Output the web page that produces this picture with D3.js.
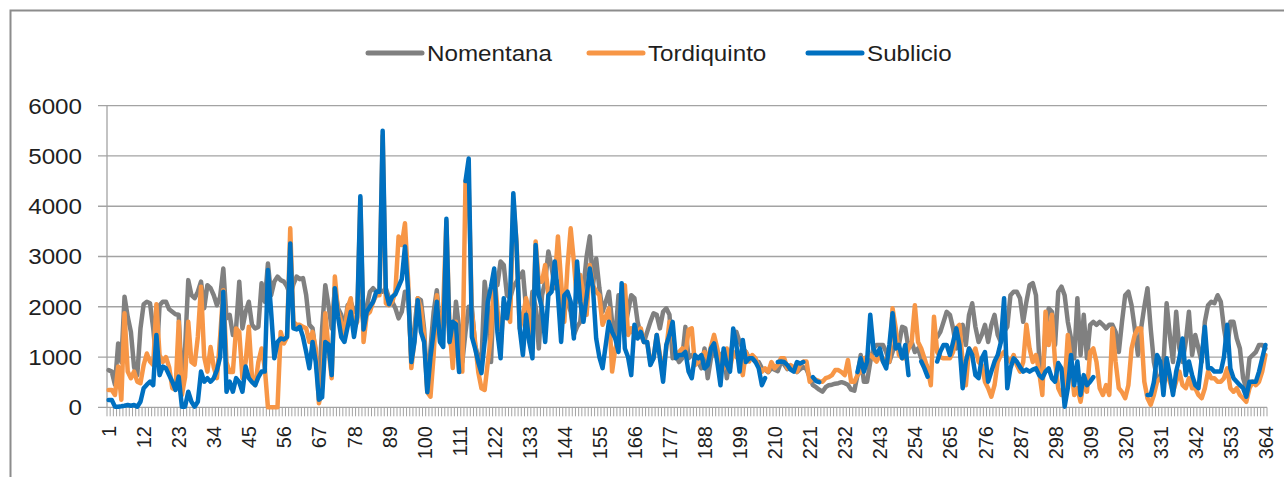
<!DOCTYPE html>
<html>
<head>
<meta charset="utf-8">
<script src="https://cdn.jsdelivr.net/npm/d3@7"></script>
<style>
  body { margin: 0; background: #fff; }
  text { font-family: "Liberation Sans", Arial, sans-serif; fill: #1f1f1f; }
</style>
</head>
<body>
<script>
// categories: day of year 1..364
const days = d3.range(1, 365);
const xTickLabels = [1, 12, 23, 34, 45, 56, 67, 78, 89, 100, 111, 122, 133, 144, 155, 166, 177, 188,
  199, 210, 221, 232, 243, 254, 265, 276, 287, 298, 309, 320, 331, 342, 353, 364];
const yTicks = [0, 1000, 2000, 3000, 4000, 5000, 6000];
const seriesNames = ["Nomentana", "Tordiquinto", "Sublicio"];
const seriesColors = ["#808080", "#f79646", "#0070c0"];

const nomentana = [
  740, 710, 450, 1270, 900, 2200, 1800, 1500, 800, 640,
  1570, 2050, 2100, 2070, 1570, 900, 2030, 2100, 2100, 1950,
  1900, 1850, 1840, 440, 1170, 2530, 2230, 2170, 2300, 2500,
  1970, 2430, 2370, 2230, 2030, 2200, 2760, 1770, 1840, 1440,
  1570, 2500, 1570, 1900, 2100, 1640, 1570, 1600, 2470, 2100,
  2860, 2230, 2500, 2600, 2530, 2500, 2400, 2230, 2450, 2600,
  2550, 2570, 2230, 1640, 1570, 1040, 440, 1570, 2430, 2030,
  1570, 2370, 1970, 1840, 1570, 2030, 2100, 1900, 2000, 2100,
  1640, 2000, 2300, 2370, 2300, 2300, 2300, 2370, 2170, 2100,
  1970, 1770, 1900, 2300, 2230, 975, 1600, 2170, 2130, 1570,
  380, 1170, 1900, 2330, 1570, 1900, 2230, 1300, 1170, 2100,
  1570, 900, 1500, 2000, 1970, 1240, 1000, 900, 2500, 1970,
  900, 2500, 2430, 2900, 2830, 2230, 2170, 2400, 2500, 2600,
  2700, 1970, 1570, 2300, 2000, 1170, 2230, 2500, 3100, 2800,
  2370, 2500, 1970, 2170, 2100, 1900, 1440, 1600, 1700, 2370,
  3000, 3400, 2430, 2960, 2370, 1900, 2100, 2300, 1700, 1370,
  2230, 1970, 1570, 1900, 2230, 2170, 1700, 1440, 1300, 1500,
  1700, 1870, 1840, 1570, 1900, 1970, 1840, 975, 1040, 900,
  975, 1600, 975, 1040, 975, 900, 775, 1170, 580, 975,
  1170, 975, 1040, 1100, 580, 1040, 1300, 1500, 1300, 1170,
  1100, 975, 975, 900, 900, 775, 750, 700, 780, 750,
  720, 900, 850, 760, 800, 760, 700, 760, 800, 760,
  600, 440, 400, 350, 310, 400, 440, 450, 470, 480,
  500, 480, 450, 350, 330, 640, 1040, 510, 510, 900,
  1170, 1240, 1240, 1240, 1100, 900, 1100, 1300, 1240, 1600,
  1570, 1170, 1300, 1100, 1170, 975, 900, 800, null, null,
  1400, 1500, 1700, 1900, 1840, 1570, 1170, 1570, 1640, 1240,
  1840, 2070, 1600, 1300, 1440, 1640, 1300, 1640, 1840, 1440,
  1300, 1500, 1600, 2230, 2300, 2300, 2170, 1700, 2100, 2430,
  2470, 2230, 1000, 440, 1570, 1970, 1900, 1240, 2300, 2400,
  2230, 1700, 1370, 975, 2170, 1040, 1840, 975, 1640, 1700,
  1640, 1700, 1640, 1570, 1640, 1640, 1500, 1100, 1700, 2230,
  2300, 2030, 1570, 1040, 1570, 2000, 2370, 1570, 900, 580,
  580, 840, 2070, 1440, 900, 1900, 1170, 900, 1300, 1900,
  1040, 1440, 1170, 900, 1700, 2030, 2100, 2070, 2230, 2100,
  1570, 1170, 1700, 1700, 1370, 1170, 580, 380, 975, 1040,
  1100, 1240, 1240, 1170
];

const tordiquinto = [
  345, 345, 245, 810, 150, 1870, 710, 580, 710, 510,
  480, 840, 1070, 910, 840, 2050, 1040, 900, 1000, 800,
  380, 350, 1700, 245, 600, 1700, 900, 850, 1400, 2400,
  1000, 710, 1200, 800, 580, 1400, 2330, 900, 700, 700,
  1570, 1500, 580, 900, 1600, 600, 440, 900, 1170, 800,
  0, 0, 0, 0, 1500, 1270, 1400, 3560, 1700, 1640,
  1640, 1600, 1570, 1300, 1500, 1170, 80, 380, 1870, 1170,
  580, 2600, 1900, 1700, 1440, 1970, 2170, 1570, 1700, 4150,
  1300, 1840, 1900, 2100, 2230, 2230, 5400, 2070, 2030, 2100,
  2300, 3400, 3230, 3660, 2500, 780, 1370, 2170, 1970, 1440,
  300, 210, 1040, 2230, 1300, 2000, 3700, 1570, 780, 1700,
  710, 710, 4500, 4400, 1900, 1300, 700, 380, 345, 900,
  1440, 2700, 1970, 1170, 2100, 1900, 1700, 4100, 3300, 1570,
  1800, 2170, 1900, 1170, 3300, 2500, 2500, 2830, 2230, 2370,
  2500, 3400, 2500, 1700, 2800, 3560, 2900, 2100, 2630, 2230,
  1840, 2830, 2430, 2300, 2230, 1640, 1800, 1970, 710, 1170,
  1370, 1900, 2430, 1440, 1570, 1440, 1500, 1570, 1300, 1300,
  900, 975, 1440, 1040, 710, 1170, 1700, 1500, 975, 1100,
  1170, 1040, 1540, 1570, 840, 900, 1000, 1100, 975, 1200,
  1440, 1170, 840, 775, 1170, 775, 1100, 1000, 975, 640,
  1100, 910, 1040, 975, 800, 710, 775, 710, 900, 775,
  850, 975, 975, 775, 840, 800, 710, 850, 910, 910,
  510, 580, 545, 520, 510, 580, 600, 640, 740, 740,
  700, 640, 940, 510, 510, 640, 710, 975, 1000, 1040,
  975, 910, 1040, 910, 975, 910, 1970, 1570, 1040, 975,
  975, 1170, 1300, 2030, 1300, 1170, 975, 775, 440, 1800,
  1100, 1000, 975, 975, 975, 1100, 1570, 1640, 900, 440,
  1170, 1040, 1170, 900, 840, 510, 380, 210, 440, 900,
  1040, 1100, 975, 900, 1040, 840, 710, 900, 1640, 1170,
  900, 1040, 710, 245, 1900, 1240, 1840, 900, 380, 245,
  440, 1440, 900, 245, 380, 110, 510, 310, 1100, 1170,
  900, 380, 245, 440, 245, 1570, 900, 380, 300, 180,
  440, 1170, 1440, 1570, 1570, 510, 180, 50, 245, 510,
  580, 440, 710, 510, 310, 510, 710, 440, 380, 580,
  380, 380, 245, 180, 380, 710, 580, 580, 510, 510,
  580, 775, 380, 310, 380, 245, 180, 110, 380, 510,
  440, 510, 710, 1040
];

const sublicio = [
  146, 146, 13, 13, 20, 30, 46, 30, 46, 13,
  110, 380, 450, 510, 440, 1440, 640, 810, 775, 640,
  510, 345, 610, 13, 13, 310, 110, 13, 110, 710,
  510, 580, 510, 580, 740, 1000, 2300, 310, 510, 310,
  580, 500, 310, 810, 580, 500, 440, 600, 710, 710,
  2730, 1900, 975, 1300, 1370, 1350, 1400, 3260, 1570, 1550,
  1600, 1400, 1100, 775, 1300, 900, 150, 200, 1300, 1250,
  640, 2370, 1800, 1400, 1300, 1600, 1900, 1400, 1800, 4200,
  1550, 1900, 2000, 2100, 2300, 2300, 5500, 2300, 2050, 2200,
  2250, 2400, 2550, 3200, 2300, 900, 1300, 2130, 1500, 1300,
  300, 1000, 1500, 2100, 1300, 1200, 3750, 1300, 1700, 1650,
  700, null, 4500, 4950, 1400, 1170, 900, 680, 1300, 2100,
  2400, 2760, 1500, 975, 2170, 1770, 2230, 4260, 3230, 1570,
  1040, 1840, 1300, 975, 3230, 2230, 1970, 1300, 2230, 2300,
  2900, 2230, 1300, 2230, 2300, 2100, 1370, 2900, 2100, 1700,
  2200, 2760, 2370, 1370, 1000, 780, 1240, 1700, 1500, 1370,
  1100, 2470, 1170, 1000, 640, 1640, 1370, 1500, 1300, 1300,
  840, 975, 1440, 975, 510, 1240, 1440, 1700, 975, 1040,
  1040, 1100, 710, 580, 1040, 975, 1040, 775, 840, 1170,
  1270, 900, 440, 1170, 840, 710, 1570, 1240, 710, 1340,
  900, 975, 975, 900, 775, 440, 580, null, null, null,
  900, 910, 900, 840, 750, 710, 900, 870, 900, null,
  null, 600, 520, 500, null, null, null, null, null, null,
  null, null, null, null, null, 700, 975, 710, 910, 1840,
  1170, 1040, 1170, 910, 775, 1240, 1870, 1170, 1240, 975,
  1240, 640, null, null, null, 910, 775, 610, null, null,
  910, 1110, 1240, 1240, 1040, 1300, 1570, 1240, 380, 910,
  1170, 1040, 640, 580, 975, 1100, 510, 710, 910, 1040,
  1300, 2170, 380, 775, 975, 910, 800, 710, 750, 710,
  750, 775, 640, 580, 710, 775, 580, 510, 880, 775,
  13, 380, 1040, 440, 910, 245, 640, 440, 510, 600,
  null, null, null, null, null, null, null, null, null, null,
  null, null, null, null, null, null, 245, 245, 500, 1040,
  910, 245, 975, 640, 245, 710, 975, 1370, 640, 910,
  640, 440, 380, 975, 1600, 775, 775, 710, 710, 710,
  1000, 1640, 775, 580, 510, 440, 380, 210, 510, 510,
  510, 710, 975, 1240
];

const series = [nomentana, tordiquinto, sublicio];

const width = 1284, height = 477;
const margin = {top: 105.7, right: 17, bottom: 69.7, left: 107};

const svg = d3.select("body").append("svg")
    .attr("width", width)
    .attr("height", height);

// chart area border (only top and left are inside the picture)
svg.append("path")
    .attr("d", `M10.5,${height}V10.5H${width}`)
    .attr("fill", "none")
    .attr("stroke", "#8c8c8c")
    .attr("stroke-width", 2);

const x = d3.scaleBand()
    .domain(days)
    .range([margin.left, width - margin.right]);

const y = d3.scaleLinear()
    .domain([0, 6000])
    .range([height - margin.bottom, margin.top]);

const cx = d => x(d) + x.bandwidth() / 2;

// gridlines + left tick stubs
svg.append("g")
  .selectAll("line")
  .data(yTicks)
  .join("line")
    .attr("x1", margin.left - 9)
    .attr("x2", width - margin.right)
    .attr("y1", d => y(d))
    .attr("y2", d => y(d))
    .attr("stroke", "#a3a3a3")
    .attr("stroke-width", 1.3);

// y axis line
svg.append("line")
    .attr("x1", margin.left).attr("x2", margin.left)
    .attr("y1", y(6000)).attr("y2", y(0))
    .attr("stroke", "#a3a3a3")
    .attr("stroke-width", 1.3);

// y labels
svg.append("g")
  .selectAll("text")
  .data(yTicks)
  .join("text")
    .attr("transform", d => `translate(82,${y(d)}) scale(1.1,1)`)
    .attr("text-anchor", "end")
    .attr("dy", "0.36em")
    .style("font-size", "22px")
    .text(d => d);

// x category tick marks (between categories)
const bounds = days.map(d => x(d)).concat([width - margin.right]);
svg.append("g")
  .selectAll("line")
  .data(bounds)
  .join("line")
    .attr("x1", d => d).attr("x2", d => d)
    .attr("y1", y(0)).attr("y2", y(0) + 9)
    .attr("stroke", "#a3a3a3")
    .attr("stroke-width", 1);

// x labels
svg.append("g")
  .selectAll("text")
  .data(xTickLabels)
  .join("text")
    .attr("transform", d => `translate(${cx(d)},426) scale(1.05,1) rotate(-90)`)
    .attr("text-anchor", "end")
    .attr("dy", "0.36em")
    .style("font-size", "20px")
    .text(d => d);

// lines
const line = d3.line()
    .defined(d => d.v != null)
    .x(d => cx(d.day))
    .y(d => y(d.v));

series.forEach((vals, k) => {
  svg.append("path")
      .datum(days.map((day, i) => ({day, v: vals[i]})))
      .attr("fill", "none")
      .attr("stroke", seriesColors[k])
      .attr("stroke-width", 4.5)
      .attr("stroke-linejoin", "round")
      .attr("stroke-linecap", "round")
      .attr("d", line);
});

// legend
const legendX = [368, 589, 808];
const legend = svg.append("g")
  .selectAll("g")
  .data(seriesNames)
  .join("g")
    .attr("transform", (d, i) => `translate(${legendX[i]},53)`);

legend.append("line")
    .attr("x1", 0).attr("x2", 54)
    .attr("stroke", (d, i) => seriesColors[i])
    .attr("stroke-width", 5)
    .attr("stroke-linecap", "round");

legend.append("text")
    .attr("transform", "translate(59,0) scale(1.1,1)")
    .attr("dy", "0.36em")
    .style("font-size", "22px")
    .text(d => d);
</script>
</body>
</html>
